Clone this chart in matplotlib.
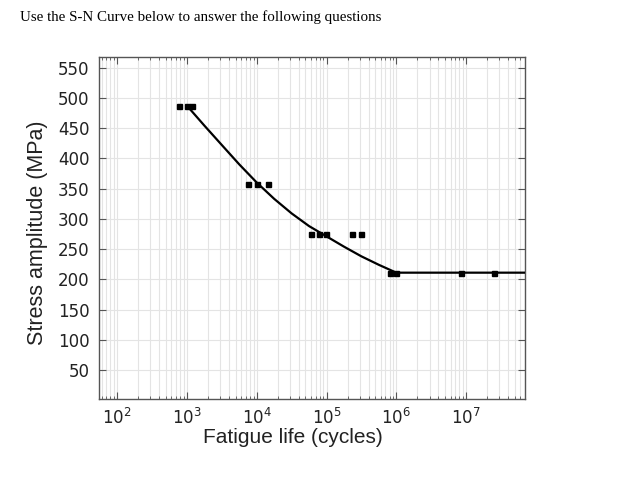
import matplotlib
matplotlib.use("Agg")
import matplotlib.pyplot as plt
from matplotlib.ticker import LogLocator, NullFormatter
import numpy as np

# measured fatigue test points (cycles, MPa)
test_cycles = [780, 1000, 1200, 7600, 10000, 14700, 60000, 78000, 98000,
               234000, 310000, 800000, 1000000, 8500000, 25000000]
test_stress = [487, 487, 487, 358, 358, 358, 275, 275, 275,
               275, 275, 211, 211, 211, 211]

curve_cycles = [1e3, 1.78e3, 3.16e3, 5.62e3, 1e4, 1.78e4, 3.16e4, 5.62e4,
                1e5, 1.78e5, 3.16e5, 5.62e5, 1e6, 7e7]
curve_stress = [487, 454, 422, 390, 360, 333, 309, 288,
                271, 254, 238, 224, 211, 211]

x_ticks = [1e2, 1e3, 1e4, 1e5, 1e6, 1e7]
y_ticks = [50, 100, 150, 200, 250, 300, 350, 400, 450, 500, 550]

fig = plt.figure(figsize=(6.41, 4.90), dpi=100)
ax = fig.add_axes([0.1545, 0.1867, 0.6646, 0.6964])

ax.set_xscale("log")
ax.set_xlim(55, 7e7)
ax.set_ylim(3, 567)

ax.set_xticks(x_ticks)
ax.xaxis.set_minor_locator(LogLocator(base=10, subs=np.arange(2, 10), numticks=20))
ax.xaxis.set_minor_formatter(NullFormatter())
ax.set_yticks(y_ticks)

ax.grid(which="major", color="#e4e4e4", linewidth=0.8)
ax.grid(which="minor", axis="x", color="#e4e4e4", linewidth=0.8)
ax.set_axisbelow(True)

ax.plot(curve_cycles, curve_stress, color="black", linewidth=1.6, zorder=3)
ax.plot(test_cycles, test_stress, linestyle="none", marker="s",
        markersize=3.6, color="black", zorder=4)

for s in ax.spines.values():
    s.set_color("#555555")
    s.set_linewidth(1.0)

ax.tick_params(which="both", direction="in", top=True, right=True,
               color="#555555", labelcolor="#222222", labelsize=12)
ax.tick_params(which="major", length=5, pad=7)
ax.tick_params(which="minor", length=2.5)

fig.text(293 / 641, 1 - 437 / 490, "Fatigue life (cycles)",
         family="Liberation Sans", fontsize=15, color="#222222",
         ha="center", va="center")
fig.text(38 / 641, 1 - 233 / 490, "Stress amplitude (MPa)",
         family="Liberation Sans", fontsize=15.5, color="#222222",
         ha="center", va="center", rotation=90)
fig.text(20 / 641, 1 - 17 / 490,
         "Use the S-N Curve below to answer the following questions",
         family="Liberation Serif", fontsize=10.8, color="black",
         ha="left", va="center")

fig.savefig("out.png", dpi=100)
